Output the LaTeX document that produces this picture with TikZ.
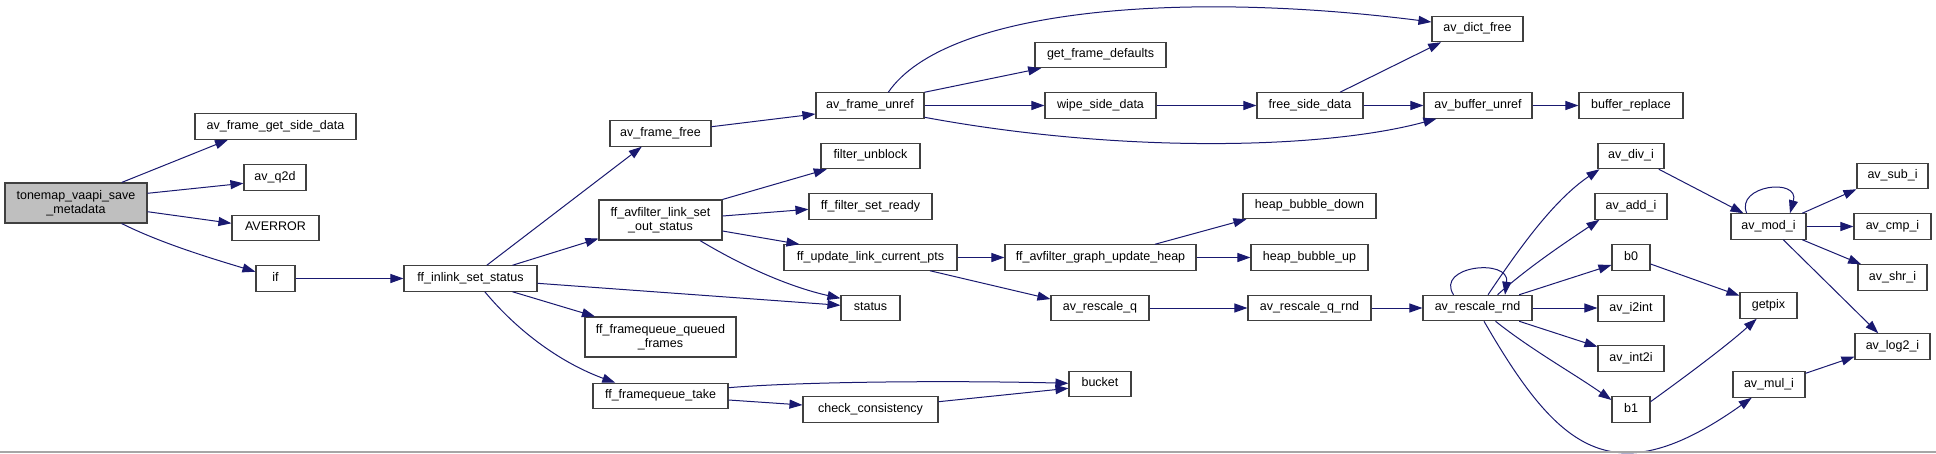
\documentclass[tikz,border=0pt]{standalone}
\usepackage{fontspec}
\setmainfont{Liberation Sans}
\usetikzlibrary{arrows.meta}
\definecolor{edgeblue}{HTML}{191970}
\definecolor{rootgray}{HTML}{BFBFBF}
\newcommand\fnfont{\fontsize{12.5}{14.5}\selectfont}
\tikzset{
  fn/.style={draw=black!75, line width=1.1pt, fill=white, inner sep=0pt,
    minimum height=25.4pt, font=\fnfont, text height=9pt, text depth=3.5pt},
  fntwo/.style={draw=black!75, line width=1.1pt, fill=white, inner sep=0pt,
    minimum height=40pt, font=\fnfont, align=center},
  call/.style={draw=edgeblue, line width=1pt, -{Triangle[length=13pt,width=9pt]}}
}
\begin{document}
\begin{tikzpicture}[x=1pt,y=-1pt]
\useasboundingbox[fill=white] (0,0) rectangle (1936,453);
% nodes
\node[fntwo, fill=rootgray, minimum width=142pt] (root) at (76,203) {tonemap\_vaapi\_save\\\_metadata};
\node[fn, minimum width=161pt] (afgsd) at (275.5,126.5) {av\_frame\_get\_side\_data};
\node[fn, minimum width=62pt] (avq2d) at (275,177.5) {av\_q2d};
\node[fn, minimum width=87pt] (averror) at (275.5,228) {AVERROR};
\node[fn, minimum width=39pt] (iff) at (275.5,278.5) {if};
\node[fn, minimum width=133pt] (inlink) at (470.5,278.5) {ff\_inlink\_set\_status};
\node[fn, minimum width=101pt] (afree) at (660.5,133.5) {av\_frame\_free};
\node[fntwo, minimum width=123pt] (linkset) at (660.5,220) {ff\_avfilter\_link\_set\\\_out\_status};
\node[fn, minimum width=59pt] (status) at (870.5,308) {status};
\node[fntwo, minimum width=151pt] (queued) at (660.5,337) {ff\_framequeue\_queued\\\_frames};
\node[fn, minimum width=135pt] (take) at (660.5,396) {ff\_framequeue\_take};
\node[fn, minimum width=108pt] (unref) at (870,105.5) {av\_frame\_unref};
\node[fn, minimum width=99pt] (unblock) at (870.5,156) {filter\_unblock};
\node[fn, minimum width=123pt] (setready) at (870.5,206.5) {ff\_filter\_set\_ready};
\node[fn, minimum width=173pt] (updpts) at (870.5,257.5) {ff\_update\_link\_current\_pts};
\node[fn, minimum width=135pt] (check) at (870.5,409.5) {check\_consistency};
\node[fn, minimum width=131pt] (getdef) at (1100.5,55) {get\_frame\_defaults};
\node[fn, minimum width=111pt] (wipe) at (1100.5,105.5) {wipe\_side\_data};
\node[fn, minimum width=191pt] (heap) at (1100.5,257.5) {ff\_avfilter\_graph\_update\_heap};
\node[fn, minimum width=98pt] (rescaleq) at (1100,308) {av\_rescale\_q};
\node[fn, minimum width=62pt] (bucket) at (1100,384) {bucket};
\node[fn, minimum width=106pt] (freeside) at (1310,105.5) {free\_side\_data};
\node[fn, minimum width=133pt] (hbdown) at (1309.5,206) {heap\_bubble\_down};
\node[fn, minimum width=117pt] (hbup) at (1309.5,257.5) {heap\_bubble\_up};
\node[fn, minimum width=123pt] (rqrnd) at (1309.5,308) {av\_rescale\_q\_rnd};
\node[fn, minimum width=91pt] (dictfree) at (1477.5,29) {av\_dict\_free};
\node[fn, minimum width=108pt] (bufunref) at (1478,105.5) {av\_buffer\_unref};
\node[fn, minimum width=109pt] (rrnd) at (1477.5,308) {av\_rescale\_rnd};
\node[fn, minimum width=104pt] (bufrep) at (1631,105.5) {buffer\_replace};
\node[fn, minimum width=66pt] (divi) at (1631,156) {av\_div\_i};
\node[fn, minimum width=72pt] (addi) at (1631,206.5) {av\_add\_i};
\node[fn, minimum width=38pt] (bzero) at (1631,257.5) {b0};
\node[fn, minimum width=66pt] (i2int) at (1631,308.5) {av\_i2int};
\node[fn, minimum width=66pt] (int2i) at (1631,358.5) {av\_int2i};
\node[fn, minimum width=38pt] (bone) at (1631,409.5) {b1};
\node[fn, minimum width=75pt] (modi) at (1768.5,226.5) {av\_mod\_i};
\node[fn, minimum width=57pt] (getpix) at (1768.5,305.5) {getpix};
\node[fn, minimum width=72pt] (muli) at (1769,384.5) {av\_mul\_i};
\node[fn, minimum width=71pt] (subi) at (1892.5,176) {av\_sub\_i};
\node[fn, minimum width=77pt] (cmpi) at (1892.5,226.5) {av\_cmp\_i};
\node[fn, minimum width=69pt] (shri) at (1892.5,277.5) {av\_shr\_i};
\node[fn, minimum width=75pt] (log2i) at (1892.5,346.5) {av\_log2\_i};
% edges
\draw[call] ([xshift=45.7pt]root.north) -- ([xshift=-47.5pt]afgsd.south);
\draw[call] ([yshift=9.7pt]root.east) -- ([yshift=-5.8pt]avq2d.west);
\draw[call] ([yshift=-8.7pt]root.east) -- ([yshift=4.7pt]averror.west);
\draw[call] ([xshift=45.7pt]root.south) .. controls +(40,20) and +(-43,-13) .. ([yshift=6.8pt]iff.west);
\draw[call] (iff.east) -- (iff.east -| inlink.west);
\draw[call] ([xshift=16.3pt]inlink.north) -- ([xshift=-18.8pt]afree.south);
\draw[call] ([xshift=42pt]inlink.north) -- ([yshift=2pt]linkset.south west);
\draw[call] ([yshift=-4.8pt]inlink.east) -- ([yshift=2.7pt]status.west);
\draw[call] ([xshift=42pt]inlink.south) -- ([xshift=10.5pt]queued.north west);
\draw[call] ([xshift=14.3pt]inlink.south) .. controls +(35,42) and +(-52,-19) .. ([xshift=-45.2pt]take.north);
\draw[call] (linkset.north east) -- ([xshift=6.3pt]unblock.south west);
\draw[call] ([yshift=4pt]linkset.east) -- ([yshift=-2.8pt]setready.west);
\draw[call] ([yshift=-11pt]linkset.east) -- ([xshift=16pt]updpts.north west);
\draw[call] ([xshift=39.5pt]linkset.south) .. controls +(50,30) and +(-45,-10) .. ([yshift=9.7pt]status.west);
\draw[call] (updpts.east) -- (updpts.east -| heap.west);
\draw[call] ([xshift=59.5pt]updpts.south) -- ([yshift=-4.3pt]rescaleq.north west);
\draw[call] ([yshift=8.3pt]take.east) .. controls +(70,-6) and +(-120,-3) .. ([yshift=0.7pt]bucket.west);
\draw[call] ([yshift=-4pt]take.east) -- ([yshift=4.5pt]check.west);
\draw[call] ([yshift=7.8pt]check.east) -- ([yshift=-4.3pt]bucket.west);
\draw[call] ([yshift=6.8pt]afree.east) -- ([yshift=-8.5pt]unref.west);
\draw[call] ([xshift=18.3pt]unref.north) .. controls +(57,-83) and +(-252,-32) .. ([yshift=7pt]dictfree.west);
\draw[call] (unref.north east) -- ([xshift=6.7pt]getdef.south west);
\draw[call] (unref.east) -- (unref.east -| wipe.west);
\draw[call] ([yshift=-11.8pt]unref.east) .. controls +(200,37) and +(-110,30) .. ([xshift=13pt]bufunref.south west);
\draw[call] (wipe.east) -- (wipe.east -| freeside.west);
\draw[call] ([xshift=30pt]freeside.north) -- ([xshift=9.7pt]dictfree.south west);
\draw[call] (freeside.east) -- (freeside.east -| bufunref.west);
\draw[call] (bufunref.east) -- (bufunref.east -| bufrep.west);
\draw[call] ([xshift=54.5pt]heap.north) -- ([xshift=4pt]hbdown.south west);
\draw[call] (heap.east) -- (heap.east -| hbup.west);
\draw[call] (rescaleq.east) -- (rescaleq.east -| rqrnd.west);
\draw[call] (rqrnd.east) -- (rqrnd.east -| rrnd.west);
\draw[call] ([xshift=-24pt]rrnd.north) .. controls +(-18.5,-29) and +(5,-37) .. ([xshift=27.5pt]rrnd.north);
\draw[call] ([xshift=10.5pt]rrnd.north) .. controls +(31,-46) and +(-46,31) .. ([xshift=2pt]divi.south west);
\draw[call] ([xshift=20pt]rrnd.north) .. controls +(30,-27) and +(-33,22) .. ([xshift=5pt]addi.south west);
\draw[call] ([xshift=-13.4pt]rrnd.north east) -- ([yshift=-7.5pt]bzero.west);
\draw[call] (rrnd.east) -- (rrnd.east -| i2int.west);
\draw[call] ([xshift=-13.4pt]rrnd.south east) -- ([yshift=11.8pt]int2i.west);
\draw[call] ([xshift=18pt]rrnd.south) .. controls +(35,28) and +(-37,-26) .. ([yshift=9.5pt]bone.west);
\draw[call] ([xshift=6.5pt]rrnd.south) .. controls +(75,130) and +(-138.6,98.4) .. ([xshift=-17.3pt]muli.south);
\draw[call] ([xshift=-5.7pt]divi.south east) -- ([xshift=13pt]modi.north west);
\draw[call] ([xshift=-21.8pt]modi.north) .. controls +(-11.7,-28) and +(10,-36) .. ([xshift=21.5pt]modi.north);
\draw[call] ([xshift=-4.3pt]modi.north east) -- (subi.south west);
\draw[call] (modi.east) -- (modi.east -| cmpi.west);
\draw[call] ([xshift=-4.3pt]modi.south east) -- ([xshift=3.7pt]shri.north west);
\draw[call] ([xshift=14.8pt]modi.south) -- ([xshift=-14.2pt]log2i.north);
\draw[call] ([yshift=-6.5pt]bzero.east) -- ([yshift=9.8pt]getpix.west);
\draw[call] ([yshift=7.8pt]bone.east) .. controls +(36,-26) and +(-30,27) .. ([xshift=-11.8pt]getpix.south);
\draw[call] ([yshift=11.2pt]muli.east) -- ([yshift=-10.2pt]log2i.west);
% bottom rule
\draw[black!35, line width=2pt] (0,451.5) -- (1936,451.5);
\end{tikzpicture}
\end{document}
